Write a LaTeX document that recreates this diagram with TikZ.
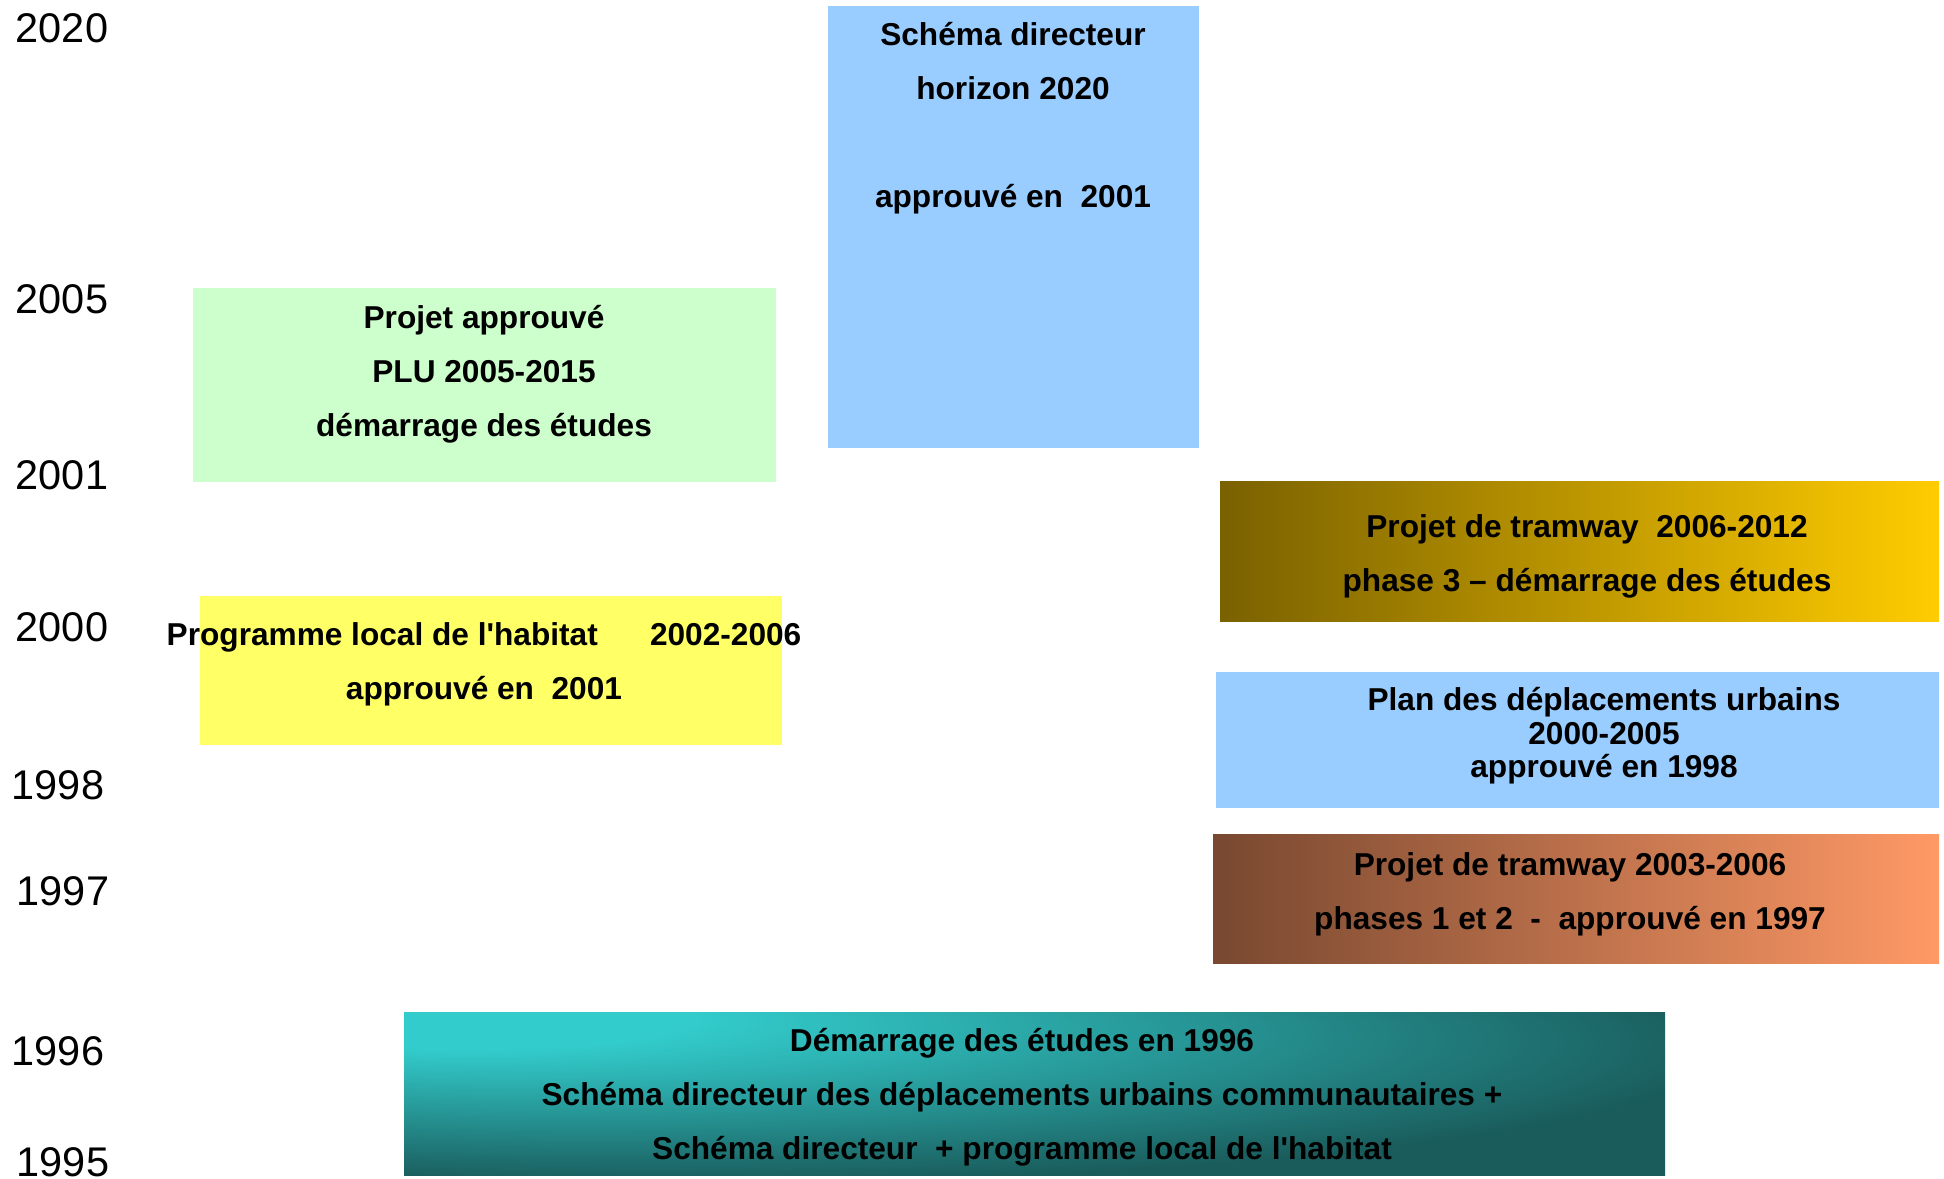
\documentclass[tikz,border=0pt]{standalone}
\usepackage{fontspec}
\setmainfont{Liberation Sans}
\usetikzlibrary{positioning}

\definecolor{skyfill}{HTML}{99CCFF}
\definecolor{mintfill}{HTML}{CCFFCC}
\definecolor{lemonfill}{HTML}{FFFF66}
\definecolor{oliveA}{RGB}{122,97,0}
\definecolor{oliveB}{RGB}{255,204,0}
\definecolor{rustA}{RGB}{120,72,48}
\definecolor{rustB}{RGB}{255,153,102}
\definecolor{tealA}{RGB}{51,204,204}
\definecolor{tealB}{RGB}{26,92,92}

\pgfdeclareradialshading{tealcorner}{\pgfpoint{-25bp}{25bp}}{color(0bp)=(tealA); color(9bp)=(tealA); color(42bp)=(tealB); color(100bp)=(tealB)}

\tikzset{
  yearlbl/.style={inner sep=0pt, font=\fontsize{11.8}{14}\selectfont},
  plainbox/.style={rectangle, inner sep=0pt, draw=none},
  boxtxt/.style={align=center, inner sep=0pt, font=\bfseries\fontsize{9}{15.4}\selectfont},
}

\begin{document}
\begin{tikzpicture}
			%%%%% START %%%%%
			\useasboundingbox (0,0) rectangle (19.44,-11.79);

			% years
			\node[yearlbl] (y2020) at (0.62,-0.28) {2020};
			\node[yearlbl] (y2005) at (0.62,-2.99) {2005};
			\node[yearlbl] (y2001) at (0.62,-4.75) {2001};
			\node[yearlbl] (y2000) at (0.62,-6.27) {2000};
			\node[yearlbl] (y1998) at (0.58,-7.85) {1998};
			\node[yearlbl] (y1997) at (0.63,-8.91) {1997};
			\node[yearlbl] (y1996) at (0.58,-10.51) {1996};
			\node[yearlbl] (y1995) at (0.63,-11.62) {1995};

			% schema directeur
			\node[plainbox, fill=skyfill, minimum width=3.71cm, minimum height=4.42cm] (sd) at (10.135,-2.27) {};
			\node[boxtxt] (sdtxt) at (10.13,-1.185) {Schéma directeur\\horizon 2020\\[15.4pt]approuvé en~ 2001};

			% PLU
			\node[plainbox, fill=mintfill, minimum width=5.83cm, minimum height=1.94cm] (plu) at (4.845,-3.85) {};
			\node[boxtxt] (plutxt) at (4.84,-3.745) {Projet approuvé\\PLU 2005-2015\\démarrage des études};

			% PLH
			\node[plainbox, fill=lemonfill, minimum width=5.82cm, minimum height=1.49cm] (plh) at (4.91,-6.705) {};
			\node[boxtxt] (plhtxt) at (4.84,-6.645) {Programme local de l\textquotesingle habitat\hspace{1.65em}2002-2006\\approuvé en~ 2001};

			% tramway phase 3
			\node[plainbox, left color=oliveA, right color=oliveB, minimum width=7.19cm, minimum height=1.40cm] (tram3) at (15.795,-5.52) {};
			\node[boxtxt] (tram3txt) at (15.87,-5.565) {Projet de tramway~ 2006-2012\\phase 3 -- démarrage des études};

			% PDU
			\node[plainbox, fill=skyfill, minimum width=7.23cm, minimum height=1.36cm] (pdu) at (15.775,-7.40) {};
			\node[boxtxt, font=\bfseries\fontsize{9}{9.5}\selectfont] (pdutxt) at (16.04,-7.36) {Plan des déplacements urbains\\2000-2005\\approuvé en 1998};

			% tramway phases 1 et 2
			\node[plainbox, left color=rustA, right color=rustB, minimum width=7.26cm, minimum height=1.29cm] (tram12) at (15.76,-8.985) {};
			\node[boxtxt] (tram12txt) at (15.70,-8.945) {Projet de tramway 2003-2006\\phases 1 et 2~ -~ approuvé en 1997};

			% etudes 1996
			\node[plainbox, shade, shading=tealcorner, minimum width=12.61cm, minimum height=1.63cm] (etudes) at (10.345,-10.935) {};
			\node[boxtxt] (etudestxt) at (10.22,-10.975) {Démarrage des études en 1996\\Schéma directeur des déplacements urbains communautaires +\\Schéma directeur~ + programme local de l\textquotesingle habitat};
			%%%%% END %%%%%
\end{tikzpicture}
\end{document}
